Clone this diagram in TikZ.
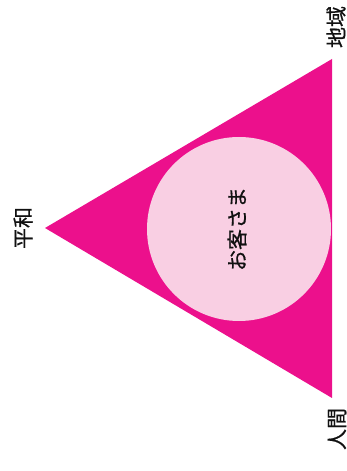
\documentclass[tikz,border=0pt]{standalone}
\usepackage{fontspec}
\setmainfont{Noto Sans CJK JP}[FakeBold=0.6]
\usetikzlibrary{positioning}
\definecolor{magenta}{HTML}{EC108C}
\definecolor{pinkfill}{HTML}{F9CFE3}
\definecolor{ink}{HTML}{111111}
\tikzset{
  every node/.style={font=\fontsize{21}{21}\selectfont, text=ink},
  vlabel/.style={rotate=90, inner sep=0pt},
  hub/.style={circle, fill=pinkfill, minimum size=184pt, inner sep=0pt},
}
\begin{document}
\begin{tikzpicture}[x=1pt, y=1pt]
\useasboundingbox (0,0) rectangle (347,471);
\coordinate (apex) at (45,243);
\coordinate (top) at (332,412);
\coordinate (bot) at (332,73);
\fill[magenta] (apex) -- (top) -- (bot) -- cycle;
\node[hub] (guest) at (239,242) {};
\node[vlabel] (guestlbl) at (237,242) {お客さま};
\node[vlabel] (peace) at (23,243) {平和};
\node[vlabel] (region) at (336,444) {地域};
\node[vlabel] (human) at (337,42) {人間};
\end{tikzpicture}
\end{document}
